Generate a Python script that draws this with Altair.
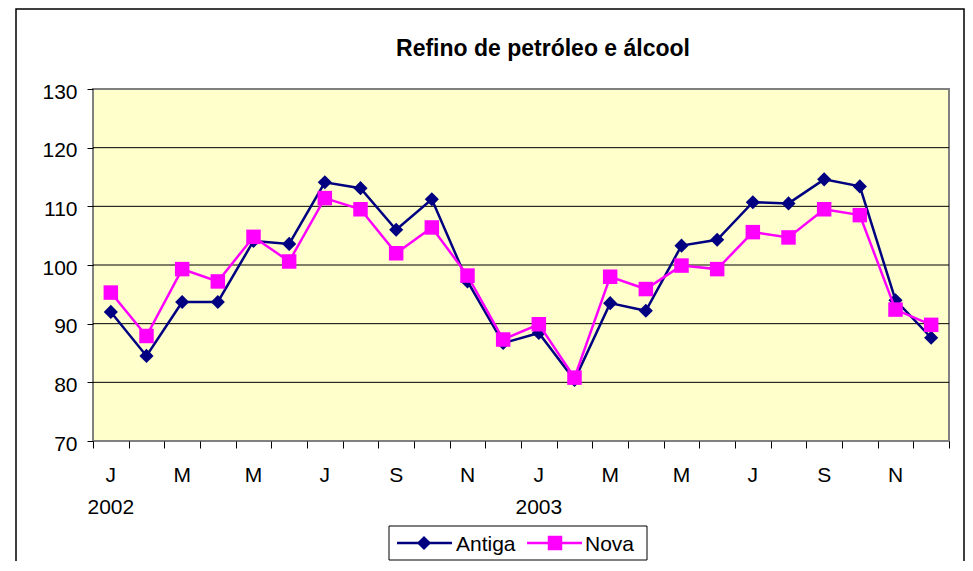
import altair as alt
import pandas as pd

months = ["J", "F", "M", "A", "M", "J", "J", "A", "S", "O", "N", "D"] * 2
antiga = [92.0, 84.5, 93.7, 93.7, 104.1, 103.6, 114.1, 113.1, 106.0, 111.2, 97.2, 86.7,
          88.4, 80.4, 93.5, 92.2, 103.3, 104.3, 110.7, 110.5, 114.6, 113.4, 94.0, 87.6]
nova = [95.3, 87.9, 99.3, 97.2, 104.8, 100.6, 111.4, 109.5, 102.0, 106.4, 98.2, 87.3,
        89.9, 80.8, 98.0, 95.9, 99.9, 99.3, 105.6, 104.7, 109.5, 108.5, 92.4, 89.8]
years = ["2002", "2003"]
year_pos = [0, 12]
y_ticks = [70, 80, 90, 100, 110, 120, 130]
grid_vals = [80, 90, 100, 110, 120]
series_names = ["Antiga", "Nova"]
series_colors = ["#000080", "#FF00FF"]

FONT = "Liberation Sans"
W, H = 856, 352

rows = []
for i in range(24):
    rows.append({"x": i + 0.5, "v": antiga[i], "s": "Antiga"})
    rows.append({"x": i + 0.5, "v": nova[i], "s": "Nova"})
df = pd.DataFrame(rows)

xs = alt.Scale(domain=[0, 24], nice=False, zero=False)
ys = alt.Scale(domain=[70, 130], nice=False, zero=False)

x_axis = alt.Axis(values=list(range(25)), labels=False, title=None, grid=False,
                  tickSize=7, tickColor="#000000", tickWidth=1, domain=False)
y_axis = alt.Axis(values=y_ticks, title=None, grid=False, tickSize=6,
                  tickColor="#000000", tickWidth=1, domain=False, labelFont=FONT,
                  labelFontSize=21, labelColor="#000000", labelPadding=10, labelOffset=3)

base_x = alt.X("x:Q", scale=xs, axis=x_axis)
base_y = alt.Y("v:Q", scale=ys, axis=y_axis)

grid = alt.Chart(pd.DataFrame({"g": grid_vals})).mark_rule(color="#000000", strokeWidth=1).encode(
    y=alt.Y("g:Q", scale=ys, axis=y_axis)
)

def series(name, color, shape, size):
    d = df[df.s == name]
    line = alt.Chart(d).mark_line(color=color, strokeWidth=2.5).encode(x=base_x, y=base_y)
    pts = alt.Chart(d).mark_point(shape=shape, filled=True, size=size, color=color, opacity=1).encode(
        x=base_x, y=base_y)
    return [line, pts]

layers = [grid]
layers += series("Antiga", series_colors[0], "diamond", 200)
layers += series("Nova", series_colors[1], "square", 210)

mdf = pd.DataFrame({"x": [i + 0.5 for i in range(0, 24, 2)], "t": months[0::2]})
mlab = alt.Chart(mdf).mark_text(font=FONT, fontSize=21, color="#000000", baseline="middle").encode(
    x=alt.X("x:Q", scale=xs, axis=x_axis), y=alt.value(H + 35), text="t:N")
ydf = pd.DataFrame({"x": [p + 0.5 for p in year_pos], "t": years})
ylab = alt.Chart(ydf).mark_text(font=FONT, fontSize=21, color="#000000", baseline="middle").encode(
    x=alt.X("x:Q", scale=xs, axis=x_axis), y=alt.value(H + 67), text="t:N")

title = alt.Chart(pd.DataFrame({"t": ["Refino de petróleo e álcool"]})).mark_text(
    font=FONT, fontSize=23, fontWeight="bold", color="#000000", baseline="middle").encode(
    x=alt.value(450), y=alt.value(-40), text="t:N")

outer = alt.Chart(pd.DataFrame({"a": [0]})).mark_rect(fill=None, stroke="#000000", strokeWidth=1.5).encode(
    x=alt.value(-77), x2=alt.value(871), y=alt.value(-80), y2=alt.value(520))

# legend
legbox = alt.Chart(pd.DataFrame({"a": [0]})).mark_rect(fill="#FFFFFF", stroke="#000000", strokeWidth=1).encode(
    x=alt.value(296), x2=alt.value(554), y=alt.value(437), y2=alt.value(471))
leg_df = pd.DataFrame({"s": series_names, "x1": [304, 434], "x2": [359, 489], "xm": [331, 462],
                       "xt": [363, 492]})
leg_layers = [legbox]
for i, (name, color, shape, size) in enumerate([("Antiga", series_colors[0], "diamond", 200),
                                                ("Nova", series_colors[1], "square", 210)]):
    r = leg_df.iloc[i]
    d = pd.DataFrame({"s": [name]})
    leg_layers.append(alt.Chart(d).mark_rule(color=color, strokeWidth=2.5).encode(
        x=alt.value(float(r.x1)), x2=alt.value(float(r.x2)), y=alt.value(454)))
    leg_layers.append(alt.Chart(d).mark_point(shape=shape, filled=True, size=size, color=color, opacity=1).encode(
        x=alt.value(float(r.xm)), y=alt.value(454)))
    leg_layers.append(alt.Chart(d).mark_text(font=FONT, fontSize=21, color="#000000", align="left",
                                             baseline="middle").encode(
        x=alt.value(float(r.xt)), y=alt.value(456), text="s:N"))

chart = alt.layer(outer, *layers, mlab, ylab, title, *leg_layers).properties(
    width=W, height=H,
    autosize=alt.AutoSizeParams(type="none"),
    padding={"left": 85, "top": 81, "right": 16, "bottom": 120},
    background="#FFFFFF",
).configure_view(fill="#FFFFCC", stroke="#808080", strokeWidth=2)

chart.save("out.html", embed_options={"renderer": "svg", "actions": False})
